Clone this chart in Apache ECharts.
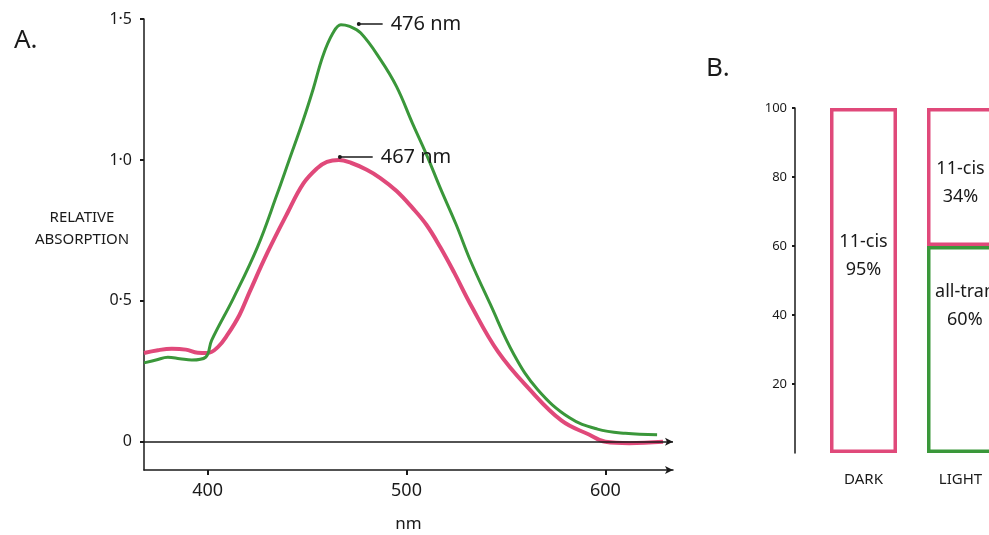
<!DOCTYPE html>
<html>
<head>
    <meta charset="utf-8">
    <title>Rhodopsin absorption</title>
    <script src="https://cdn.jsdelivr.net/npm/echarts@6/dist/echarts.min.js"></script>
</head>
<body style="margin:0">
    <div id="main" style="width: 989px;height:535px;"></div>
    <script type="text/javascript">
        // panel A: absorption spectra (nm, relative absorption)
        var darkSpectrum = [
            [368, 0.315], [375, 0.325], [382, 0.33], [389, 0.327], [395, 0.316], [400, 0.315],
            [405, 0.335], [410, 0.38], [416, 0.45], [421, 0.53], [430, 0.67], [440, 0.81],
            [448, 0.915], [455, 0.97], [460, 0.993], [466, 1.0], [472, 0.99], [480, 0.965],
            [487, 0.935], [495, 0.89], [503, 0.83], [510, 0.77], [517, 0.69], [524, 0.60],
            [532, 0.49], [546, 0.32], [562, 0.185], [578, 0.075], [592, 0.025], [600, 0.0],
            [612, -0.005], [629, 0.0]
        ];
        var lightSpectrum = [
            [368, 0.28], [374, 0.29], [380, 0.30], [386, 0.295], [392, 0.29], [399, 0.30],
            [402, 0.36], [413, 0.51], [425, 0.69], [435, 0.88], [441, 1.0], [448, 1.14],
            [453, 1.25], [458, 1.37], [463, 1.45], [467, 1.48], [471, 1.475], [477, 1.45],
            [487, 1.355], [495, 1.26], [503, 1.13], [510, 1.02], [517, 0.90], [525, 0.77],
            [532, 0.645], [542, 0.49], [554, 0.31], [566, 0.185], [582, 0.085], [596, 0.045],
            [610, 0.03], [626, 0.025]
        ];
        var peakDark = [467, 1.01];
        var peakLight = [476, 1.482];
        var xTicks = [400, 500, 600];
        var yTicks = [0, 0.5, 1.0, 1.5];
        var yTickText = ['0', '0·5', '1·0', '1·5'];

        // panel B: isomer composition (%)
        var conditions = ['DARK', 'LIGHT'];
        var cisHeight = [100, 40];
        var transHeight = [null, 60];
        var cisText = ['11-cis\n95%', '11-cis\n34%'];
        var transText = ['', '{a|all-trans}\n{b|60%}'];
        var pctTicks = [20, 40, 60, 80, 100];

        var PINK = '#e0497a';
        var GREEN = '#3a973a';
        var INK = '#1a1a1a';
        var FONT = 'Noto Sans';

        var myChart = echarts.init(document.getElementById('main'));

        var cisLabelPos = [['50%', '43%'], ['50%', '54%']];

        myChart.setOption({
            animation: false,
            textStyle: { fontFamily: FONT, color: INK },
            grid: [
                { left: 144, right: 316, top: 19, bottom: 65, outerBoundsMode: 'none' },
                // the LIGHT bar runs off the right edge of the page
                { left: 815, right: -20, top: 108, bottom: 82, outerBoundsMode: 'none' }
            ],
            xAxis: [{
                gridIndex: 0,
                type: 'value',
                min: 368,
                max: 634,
                name: 'nm',
                nameLocation: 'middle',
                nameGap: 46,
                nameTextStyle: { fontSize: 17, color: INK },
                splitLine: { show: false },
                axisLine: { onZero: false, symbol: ['none', 'arrow'], symbolSize: [6, 8], lineStyle: { color: INK, width: 1.5 } },
                axisTick: { customValues: xTicks, length: 5, lineStyle: { color: INK, width: 2 } },
                axisLabel: { customValues: xTicks, fontSize: 18, margin: 12, color: INK }
            }, {
                gridIndex: 1,
                type: 'category',
                data: conditions,
                axisLine: { show: false },
                axisTick: { show: false },
                axisLabel: { fontSize: 15, margin: 19, color: INK }
            }],
            yAxis: [{
                gridIndex: 0,
                type: 'value',
                min: -0.1,
                max: 1.5,
                splitLine: { show: false },
                axisLine: { show: true, onZero: false, lineStyle: { color: INK, width: 1.5 } },
                axisTick: { show: true, customValues: yTicks, length: 4, lineStyle: { color: INK, width: 2 } },
                axisLabel: {
                    customValues: yTicks, fontSize: 16, margin: 12, color: INK,
                    formatter: function (v) { return yTickText[yTicks.indexOf(v)]; }
                }
            }, {
                gridIndex: 1,
                type: 'value',
                min: 0,
                max: 100,
                offset: 20,
                splitLine: { show: false },
                axisLine: { show: true, lineStyle: { color: INK, width: 1.5 } },
                axisTick: { show: true, customValues: pctTicks, length: 3, lineStyle: { color: INK, width: 2 } },
                axisLabel: { customValues: pctTicks, fontSize: 13, margin: 8, color: INK }
            }],
            graphic: [
                { type: 'text', left: 14, top: 28, style: { text: 'A.', font: '26px ' + FONT, fill: INK } },
                { type: 'text', left: 706, top: 56, style: { text: 'B.', font: '26px ' + FONT, fill: INK } },
                {
                    type: 'text', x: 82, y: 229,
                    style: { text: 'RELATIVE\nABSORPTION', font: '15px ' + FONT, fill: INK, align: 'center', verticalAlign: 'middle', lineHeight: 22 }
                }
            ],
            series: [{
                name: 'dark',
                type: 'line',
                xAxisIndex: 0,
                yAxisIndex: 0,
                data: darkSpectrum,
                smooth: 0.4,
                showSymbol: false,
                lineStyle: { color: PINK, width: 4 },
                markLine: {
                    silent: true,
                    symbol: ['circle', 'none'],
                    symbolSize: 4,
                    lineStyle: { color: INK, width: 1.5, type: 'solid' },
                    label: { position: 'end', distance: 8, fontSize: 20, color: INK, formatter: peakDark[0] + ' nm' },
                    data: [[{ coord: [peakDark[0] - 0.5, peakDark[1]] }, { coord: [peakDark[0] + 16, peakDark[1]] }]]
                }
            }, {
                name: 'light',
                type: 'line',
                xAxisIndex: 0,
                yAxisIndex: 0,
                data: lightSpectrum,
                smooth: 0.4,
                showSymbol: false,
                lineStyle: { color: GREEN, width: 3 },
                markLine: {
                    silent: true,
                    symbol: ['circle', 'none'],
                    symbolSize: 4,
                    lineStyle: { color: INK, width: 1.5, type: 'solid' },
                    label: { position: 'end', distance: 8, fontSize: 20, color: INK, formatter: peakLight[0] + ' nm' },
                    data: [[{ coord: [peakLight[0], peakLight[1]] }, { coord: [peakLight[0] + 12, peakLight[1]] }]]
                }
            }, {
                name: 'zero',
                type: 'line',
                xAxisIndex: 0,
                yAxisIndex: 0,
                data: [],
                markLine: {
                    silent: true,
                    symbol: ['none', 'arrow'],
                    symbolSize: [6, 8],
                    label: { show: false },
                    lineStyle: { color: INK, width: 1.5, type: 'solid' },
                    data: [{ yAxis: 0 }]
                }
            }, {
                name: 'all-trans',
                type: 'bar',
                xAxisIndex: 1,
                yAxisIndex: 1,
                stack: 'iso',
                barWidth: 67,
                data: transHeight.map(function (v, i) {
                    return { value: v, label: { show: !!transText[i], formatter: transText[i], position: ['12%', '29%'] } };
                }),
                itemStyle: { color: 'rgba(255,255,255,0)', borderColor: GREEN, borderWidth: 3.5 },
                label: {
                    align: 'left', verticalAlign: 'middle', fontSize: 18, lineHeight: 28, color: INK,
                    rich: {
                        a: { fontSize: 18, lineHeight: 28 },
                        b: { fontSize: 18, lineHeight: 28, padding: [0, 0, 0, 12] }
                    }
                }
            }, {
                name: '11-cis',
                type: 'bar',
                xAxisIndex: 1,
                yAxisIndex: 1,
                stack: 'iso',
                barWidth: 67,
                data: cisHeight.map(function (v, i) {
                    return { value: v, label: { show: true, formatter: cisText[i], position: cisLabelPos[i] } };
                }),
                itemStyle: { color: 'rgba(255,255,255,0)', borderColor: PINK, borderWidth: 3.5 },
                label: { align: 'center', verticalAlign: 'middle', fontSize: 18, lineHeight: 28, color: INK }
            }]
        });
    </script>
</body>
</html>
